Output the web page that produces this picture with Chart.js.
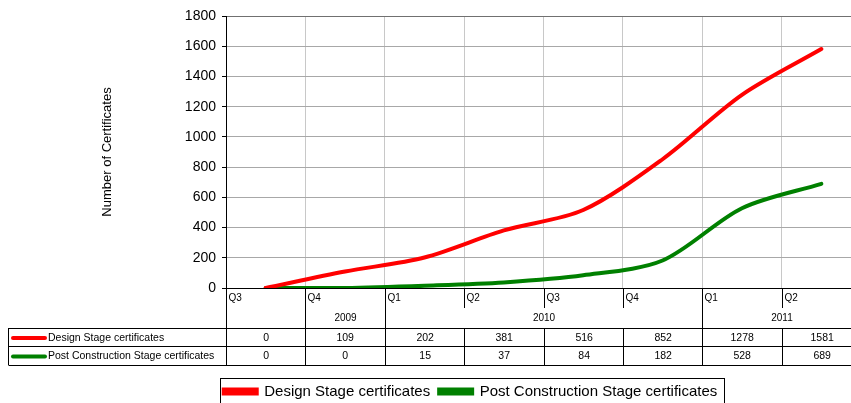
<!DOCTYPE html>
<html>
<head>
<meta charset="utf-8">
<script src="https://cdn.jsdelivr.net/npm/chart.js@4.4.1/dist/chart.umd.min.js"></script>
<style>
  html, body { margin: 0; padding: 0; background: #fff; overflow: hidden; }
  #wrap { width: 861px; height: 403px; }
  canvas { display: block; }
</style>
</head>
<body>
<div id="wrap"><canvas id="chart" width="861" height="403"></canvas></div>
<script>
// quarterly categories and cumulative certificate counts
const quarters = ['Q3', 'Q4', 'Q1', 'Q2', 'Q3', 'Q4', 'Q1', 'Q2'];
const years = ['', '2009', '2010', '2010', '2010', '2010', '2011', '2011'];
const designStage = [0, 109, 202, 381, 516, 852, 1278, 1581];
const postConstruction = [0, 0, 15, 37, 84, 182, 528, 689];
const yTicks = [0, 200, 400, 600, 800, 1000, 1200, 1400, 1600, 1800];

const FONT = '"Liberation Sans", Arial, sans-serif';
Chart.defaults.font.family = FONT;
Chart.defaults.color = '#000';

// draws the quarter / year rows and the data table under the plot
const tablePlugin = {
  id: 'dataTable',
  afterDraw(chart) {
    const ctx = chart.ctx;
    const x = chart.scales.x;
    const area = chart.chartArea;
    const w = x.getPixelForValue(1) - x.getPixelForValue(0);
    const left = i => Math.round(x.getPixelForValue(i) - w / 2) + 0.5;
    const right = Math.round(x.getPixelForValue(quarters.length - 1) + w / 2) + 0.5;
    const base = Math.round(area.bottom);
    const qRow = base + 20, yRow = qRow + 20, r1 = yRow + 18, r2 = r1 + 19;
    const tableLeft = 8.5;

    ctx.save();
    ctx.strokeStyle = '#000';
    ctx.lineWidth = 1;
    ctx.fillStyle = '#000';
    ctx.textBaseline = 'middle';

    // quarter row
    ctx.font = '10px ' + FONT;
    ctx.textAlign = 'left';
    quarters.forEach((q, i) => {
      const lx = left(i);
      ctx.beginPath();
      ctx.moveTo(lx, base);
      ctx.lineTo(lx, qRow);
      ctx.stroke();
      ctx.fillText(q, lx + 2, base + 10);
    });

    // year row, grouped
    ctx.textAlign = 'center';
    let start = 0;
    for (let i = 1; i <= years.length; i++) {
      if (i === years.length || years[i] !== years[start]) {
        const a = left(start);
        const b = i === years.length ? right : left(i);
        ctx.beginPath();
        ctx.moveTo(a, qRow);
        ctx.lineTo(a, yRow);
        ctx.stroke();
        if (years[start]) ctx.fillText(years[start], (a + b) / 2, qRow + 10);
        start = i;
      }
    }

    // table grid
    [yRow, r1, r2].forEach(yy => {
      ctx.beginPath();
      ctx.moveTo(tableLeft, yy + 0.5);
      ctx.lineTo(right, yy + 0.5);
      ctx.stroke();
    });
    ctx.beginPath();
    ctx.moveTo(tableLeft, yRow);
    ctx.lineTo(tableLeft, r2);
    ctx.stroke();
    quarters.forEach((q, i) => {
      ctx.beginPath();
      ctx.moveTo(left(i), yRow);
      ctx.lineTo(left(i), r2);
      ctx.stroke();
    });

    // table rows
    const rows = [[yRow, r1], [r1, r2]];
    chart.data.datasets.forEach((ds, k) => {
      const cy = (rows[k][0] + rows[k][1]) / 2 + 1;
      ctx.strokeStyle = ds.borderColor;
      ctx.lineWidth = 4;
      ctx.lineCap = 'round';
      ctx.beginPath();
      ctx.moveTo(13, cy);
      ctx.lineTo(45, cy);
      ctx.stroke();
      ctx.font = '10.5px ' + FONT;
      ctx.textAlign = 'left';
      ctx.fillText(ds.label, 48, cy);
      ctx.textAlign = 'center';
      ds.data.forEach((v, i) => ctx.fillText(String(v), left(i) + w / 2, cy));
    });

    // legend frame
    const boxes = chart.legend.legendHitBoxes;
    if (boxes && boxes.length) {
      const first = boxes[0], last = boxes[boxes.length - 1];
      ctx.strokeStyle = '#000';
      ctx.lineWidth = 1;
      ctx.lineCap = 'butt';
      ctx.strokeRect(Math.round(first.left - 4) + 0.5, 378.5,
        Math.round(last.left + last.width - first.left + 10), 40);
    }
    ctx.restore();
  }
};

new Chart(document.getElementById('chart'), {
  type: 'line',
  data: {
    labels: quarters,
    datasets: [
      {
        label: 'Design Stage certificates',
        data: designStage,
        borderColor: '#ff0000',
        backgroundColor: '#ff0000',
        borderWidth: 4,
        pointRadius: 0,
        tension: 0.3,
        borderCapStyle: 'round',
      },
      {
        label: 'Post Construction Stage certificates',
        data: postConstruction,
        borderColor: '#008000',
        backgroundColor: '#008000',
        borderWidth: 4,
        pointRadius: 0,
        tension: 0.3,
        borderCapStyle: 'round',
      },
    ],
  },
  options: {
    responsive: false,
    animation: false,
    devicePixelRatio: 1,
    layout: { padding: { top: 16, left: 80, right: 0, bottom: -6 } },
    plugins: {
      tooltip: { enabled: false },
      legend: {
        position: 'bottom',
        labels: {
          font: { size: 15 },
          boxWidth: 33,
          boxHeight: 4,
          padding: 9,
          color: '#000',
        },
      },
    },
    scales: {
      x: {
        type: 'category',
        offset: true,
        ticks: { display: false },
        grid: { offset: true, color: '#c8c8c8', drawTicks: false },
        border: { color: '#000', width: 1 },
        afterFit: s => { s.height = 87; },
      },
      y: {
        min: 0,
        max: 1800,
        afterBuildTicks: s => { s.ticks = yTicks.map(v => ({ value: v })); },
        ticks: { font: { size: 14 }, color: '#000', padding: 6, callback: v => String(v) },
        grid: {
          color: c => (c.tick && c.tick.value === 1800 ? '#707070' : '#a8a8a8'),
          tickLength: 4,
          tickColor: '#000',
        },
        border: { color: '#000', width: 1 },
        title: {
          display: true,
          text: 'Number of Certificates',
          font: { size: 13 },
          color: '#000',
          padding: { top: 20, bottom: 0 },
        },
        afterFit: s => { s.width = 146; },
      },
    },
  },
  plugins: [tablePlugin],
});
</script>
</body>
</html>
